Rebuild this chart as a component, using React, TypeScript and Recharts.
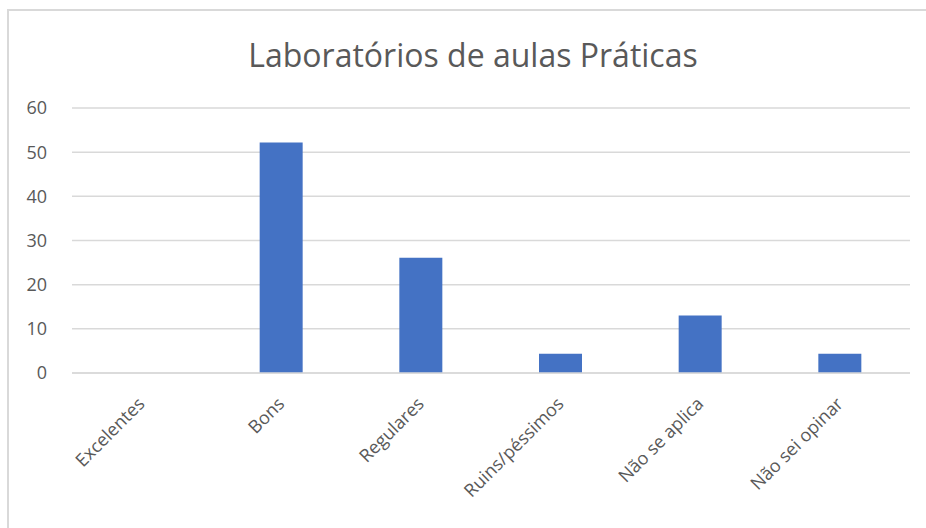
import React from "react";
import { BarChart, Bar, XAxis, YAxis, CartesianGrid } from "recharts";

const categories = ["Excelentes", "Bons", "Regulares", "Ruins/péssimos", "Não se aplica", "Não sei opinar"];
const values = [0, 52.17, 26.09, 4.35, 13.04, 4.35];
const yTicks = [0, 10, 20, 30, 40, 50, 60];
const title = "Laboratórios de aulas Práticas";

const data = categories.map((c, i) => ({ name: c, value: values[i] }));

const FONT = "'Open Sans', sans-serif";
const GRAY = "#595959";

if (typeof document !== "undefined") {
  document.documentElement.style.overflow = "hidden";
  document.body.style.margin = "0";
  document.body.style.overflow = "hidden";
}

const CatTick = (props: any) => {
  const { x, y, payload } = props;
  const ax = x + 4;
  const ay = y + 24;
  return (
    <text
      x={ax}
      y={ay}
      textAnchor="end"
      transform={`rotate(-45, ${ax}, ${ay})`}
      fill={GRAY}
      fontFamily={FONT}
      fontSize={18}
    >
      {payload.value}
    </text>
  );
};

export default function App() {
  return (
    <div
      style={{
        position: "fixed",
        left: 0,
        top: 0,
        width: 926,
        height: 528,
        background: "#fff",
        overflow: "hidden",
      }}
    >
      <div
        style={{
          position: "absolute",
          left: 7,
          top: 9,
          width: 960,
          height: 560,
          border: "2px solid #d9d9d9",
          boxSizing: "border-box",
        }}
      />
      <div
        style={{
          position: "absolute",
          left: 0,
          top: 35,
          width: 946,
          textAlign: "center",
          fontFamily: FONT,
          fontSize: 32,
          color: GRAY,
          lineHeight: "40px",
          whiteSpace: "nowrap",
        }}
      >
        {title}
      </div>
      <div style={{ position: "absolute", left: 0, top: 0 }}>
        <BarChart
          width={926}
          height={528}
          data={data}
          margin={{ top: 108, right: 16, bottom: 55, left: 0 }}
        >
          <CartesianGrid vertical={false} stroke="#d9d9d9" strokeWidth={1.5} />
          <XAxis
            dataKey="name"
            height={100}
            interval={0}
            axisLine={{ stroke: "#d9d9d9", strokeWidth: 1.5 }}
            tickLine={false}
            tick={<CatTick />}
          />
          <YAxis
            width={72}
            domain={[0, 60]}
            ticks={yTicks}
            axisLine={false}
            tickLine={false}
            tickSize={0}
            tickMargin={25}
            tick={{ fill: GRAY, fontFamily: FONT, fontSize: 18 }}
          />
          <Bar dataKey="value" fill="#4472C4" barSize={43} isAnimationActive={false} />
        </BarChart>
      </div>
    </div>
  );
}
